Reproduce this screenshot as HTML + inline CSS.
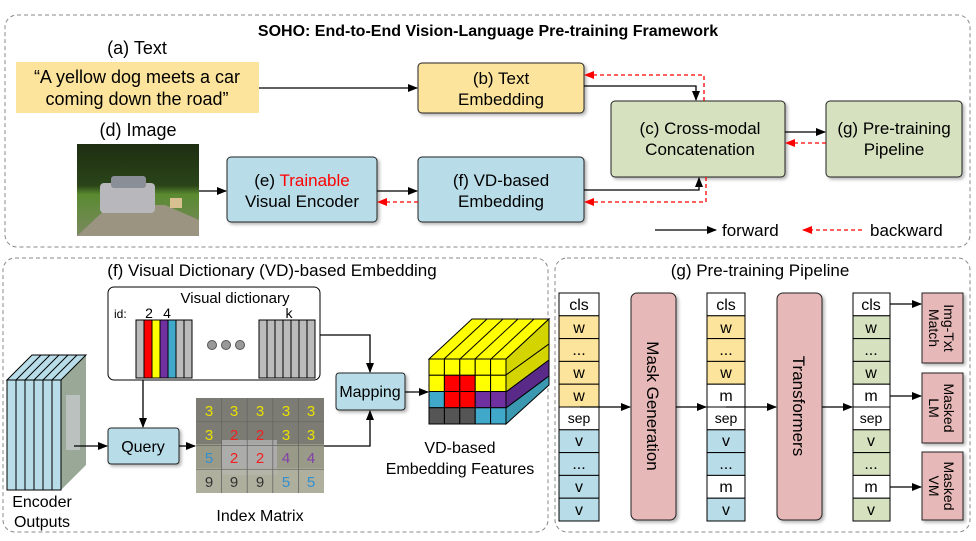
<!DOCTYPE html>
<html><head><meta charset="utf-8"><style>
html,body{margin:0;padding:0;background:#fff;}
svg text{font-family:"Liberation Sans",Arial,sans-serif;}
</style></head><body>
<svg width="976" height="536" viewBox="0 0 976 536" xmlns="http://www.w3.org/2000/svg">
<defs>
<marker id="ab" markerWidth="10" markerHeight="10" refX="9" refY="5" orient="auto" markerUnits="userSpaceOnUse"><path d="M0,1 L10,5 L0,9 Z" fill="#000"/></marker>
<marker id="ar" markerWidth="10" markerHeight="10" refX="9" refY="5" orient="auto" markerUnits="userSpaceOnUse"><path d="M0,1 L10,5 L0,9 Z" fill="#f00"/></marker>
<filter id="sh" x="-10%" y="-10%" width="130%" height="130%"><feDropShadow dx="2" dy="2" stdDeviation="1.5" flood-color="#000" flood-opacity="0.3"/></filter>
<linearGradient id="photo" x1="0" y1="0" x2="0" y2="1">
<stop offset="0" stop-color="#1e2e12"/><stop offset="0.45" stop-color="#2a4418"/><stop offset="0.55" stop-color="#5a8a30"/><stop offset="1" stop-color="#7a8a60"/></linearGradient>
</defs>

<!-- Top panel -->
<rect x="5" y="15" width="965" height="232" rx="12" fill="none" stroke="#888" stroke-dasharray="4,3"/>
<text x="488" y="36" font-size="16" font-weight="bold" text-anchor="middle">SOHO: End-to-End Vision-Language Pre-training Framework</text>
<text x="137" y="54" font-size="18" text-anchor="middle">(a) Text</text>
<rect x="16" y="62" width="243" height="51" fill="#fde49c"/>
<text x="137" y="83" font-size="18" text-anchor="middle">“A yellow dog meets a car</text>
<text x="137" y="105" font-size="18" text-anchor="middle">coming down the road”</text>
<text x="138" y="136" font-size="18" text-anchor="middle">(d) Image</text>
<rect x="77" y="144" width="122" height="92" fill="url(#photo)"/>
<path d="M77,236 L110,205 L165,205 L199,220 L199,236 Z" fill="#9a9480"/>
<rect x="100" y="183" width="55" height="30" rx="4" fill="#b8b8bc"/>
<rect x="111" y="176" width="35" height="12" rx="3" fill="#8a8e96"/>
<rect x="170" y="198" width="12" height="10" fill="#d8c090"/>

<rect x="418" y="63" width="166" height="50" rx="4" fill="#fde49c" stroke="#222" filter="url(#sh)"/>
<text x="501" y="84" font-size="17" text-anchor="middle">(b) Text</text>
<text x="501" y="105" font-size="17" text-anchor="middle">Embedding</text>
<rect x="611" y="101" width="174" height="76" rx="4" fill="#d6e2bf" stroke="#222" filter="url(#sh)"/>
<text x="700" y="134" font-size="17" text-anchor="middle">(c) Cross-modal</text>
<text x="700" y="155" font-size="17" text-anchor="middle">Concatenation</text>
<rect x="826" y="101" width="136" height="76" rx="4" fill="#d6e2bf" stroke="#222" filter="url(#sh)"/>
<text x="894" y="134" font-size="17" text-anchor="middle">(g) Pre-training</text>
<text x="894" y="155" font-size="17" text-anchor="middle">Pipeline</text>
<rect x="227" y="157" width="150" height="65" rx="4" fill="#b8dde8" stroke="#222" filter="url(#sh)"/>
<text x="302" y="186" font-size="17" text-anchor="middle">(e) <tspan fill="#f00">Trainable</tspan></text>
<text x="302" y="207" font-size="17" text-anchor="middle">Visual Encoder</text>
<rect x="418" y="157" width="166" height="65" rx="4" fill="#b8dde8" stroke="#222" filter="url(#sh)"/>
<text x="501" y="186" font-size="17" text-anchor="middle">(f) VD-based</text>
<text x="501" y="207" font-size="17" text-anchor="middle">Embedding</text>

<g stroke="#000" stroke-width="1.3" fill="none">
<line x1="259" y1="88" x2="417" y2="88" marker-end="url(#ab)"/>
<polyline points="584,86 696,86 696,100" marker-end="url(#ab)"/>
<line x1="785" y1="132" x2="825" y2="132" marker-end="url(#ab)"/>
<line x1="199" y1="191" x2="226" y2="191" marker-end="url(#ab)"/>
<line x1="377" y1="191" x2="417" y2="191" marker-end="url(#ab)"/>
<polyline points="584,190 699,190 699,178" marker-end="url(#ab)"/>
<line x1="655" y1="230" x2="716" y2="230" marker-end="url(#ab)"/>
</g>
<g stroke="#f00" stroke-width="1.3" fill="none" stroke-dasharray="4,3">
<polyline points="704,101 704,75 585,75" marker-end="url(#ar)"/>
<line x1="826" y1="143" x2="786" y2="143" marker-end="url(#ar)"/>
<polyline points="706,177 706,202 585,202" marker-end="url(#ar)"/>
<line x1="418" y1="202" x2="378" y2="202" marker-end="url(#ar)"/>
<line x1="862" y1="230" x2="803" y2="230" marker-end="url(#ar)"/>
</g>
<text x="722" y="236" font-size="17">forward</text>
<text x="870" y="236" font-size="17">backward</text>

<!-- Bottom-left panel -->
<rect x="3" y="258" width="545" height="274" rx="12" fill="none" stroke="#888" stroke-dasharray="4,3"/>
<text x="272" y="276" font-size="17" text-anchor="middle">(f) Visual Dictionary (VD)-based Embedding</text>
<polygon points="61,380 86,355 86,465 61,490" fill="#9aa898"/>
<polygon points="7,380 32,355 86,355 61,380" fill="#b8dde8" stroke="#000" stroke-width="1"/>
<rect x="7" y="380" width="54" height="110" fill="#b8dde8" stroke="#000" stroke-width="1"/>
<g stroke="#000" stroke-width="1">
<line x1="16" y1="380" x2="16" y2="490"/><line x1="25" y1="380" x2="25" y2="490"/><line x1="34" y1="380" x2="34" y2="490"/><line x1="43" y1="380" x2="43" y2="490"/><line x1="52" y1="380" x2="52" y2="490"/>
<line x1="16" y1="380" x2="41" y2="355"/><line x1="25" y1="380" x2="50" y2="355"/><line x1="34" y1="380" x2="59" y2="355"/><line x1="43" y1="380" x2="68" y2="355"/><line x1="52" y1="380" x2="77" y2="355"/>
</g>
<rect x="66" y="395" width="14" height="55" fill="#c8ccd0" opacity="0.7"/>
<text x="42" y="507" font-size="16" text-anchor="middle">Encoder</text>
<text x="42" y="527" font-size="16" text-anchor="middle">Outputs</text>
<rect x="108" y="287" width="212" height="93" rx="6" fill="#fff" stroke="#000"/>
<text x="235" y="303" font-size="15" text-anchor="middle">Visual dictionary</text>
<text x="114" y="318" font-size="12">id:</text>
<text x="149" y="318" font-size="14" text-anchor="middle">2</text>
<text x="167" y="318" font-size="14" text-anchor="middle">4</text>
<text x="289" y="318" font-size="14" text-anchor="middle">k</text>
<g stroke="#000" stroke-width="1">
<rect x="136" y="320" width="8" height="58" fill="#bbb"/><rect x="144" y="320" width="8" height="58" fill="#f00"/><rect x="152" y="320" width="8" height="58" fill="#ff0"/><rect x="160" y="320" width="8" height="58" fill="#7030a0"/><rect x="168" y="320" width="8" height="58" fill="#40a8c8"/><rect x="176" y="320" width="8" height="58" fill="#bbb"/><rect x="184" y="320" width="8" height="58" fill="#bbb"/>
<rect x="259" y="320" width="8" height="58" fill="#bbb"/><rect x="267" y="320" width="8" height="58" fill="#bbb"/><rect x="275" y="320" width="8" height="58" fill="#bbb"/><rect x="283" y="320" width="8" height="58" fill="#bbb"/><rect x="291" y="320" width="8" height="58" fill="#bbb"/><rect x="299" y="320" width="8" height="58" fill="#bbb"/><rect x="307" y="320" width="8" height="58" fill="#bbb"/>
</g>
<g fill="#999" stroke="#555"><circle cx="212" cy="345" r="4.5"/><circle cx="226" cy="345" r="4.5"/><circle cx="240" cy="345" r="4.5"/></g>
<rect x="108" y="428" width="71" height="36" rx="3" fill="#b8dde8" stroke="#222" filter="url(#sh)"/>
<text x="143" y="452" font-size="16" text-anchor="middle">Query</text>
<rect x="196" y="398" width="128" height="46" fill="#7c7c74"/>
<rect x="196" y="444" width="128" height="49" fill="#9a9a88"/>
<rect x="222" y="440" width="55" height="35" fill="#b0b0b4" opacity="0.8"/>
<rect x="196" y="468" width="128" height="25" fill="#b8b8a8" opacity="0.7"/>
<g stroke="#666" stroke-width="0.8">
<line x1="221.6" y1="398" x2="221.6" y2="493"/><line x1="247.2" y1="398" x2="247.2" y2="493"/><line x1="272.8" y1="398" x2="272.8" y2="493"/><line x1="298.4" y1="398" x2="298.4" y2="493"/>
<line x1="196" y1="421.75" x2="324" y2="421.75"/><line x1="196" y1="445.5" x2="324" y2="445.5"/><line x1="196" y1="469.25" x2="324" y2="469.25"/>
</g>
<g font-size="15" text-anchor="middle">
<g fill="#e8e000"><text x="209" y="416">3</text><text x="234" y="416">3</text><text x="260" y="416">3</text><text x="286" y="416">3</text><text x="311" y="416">3</text><text x="209" y="440">3</text><text x="286" y="440">3</text><text x="311" y="440">3</text></g>
<g fill="#f02020"><text x="234" y="440">2</text><text x="260" y="440">2</text><text x="234" y="463">2</text><text x="260" y="463">2</text></g>
<g fill="#3090d0"><text x="209" y="463">5</text><text x="286" y="487">5</text><text x="311" y="487">5</text></g>
<g fill="#8040a8"><text x="286" y="463">4</text><text x="311" y="463">4</text></g>
<g fill="#333"><text x="209" y="487">9</text><text x="234" y="487">9</text><text x="260" y="487">9</text></g>
</g>
<text x="260" y="521" font-size="16" text-anchor="middle">Index Matrix</text>
<rect x="336" y="373" width="69" height="37" rx="3" fill="#b8dde8" stroke="#222" filter="url(#sh)"/>
<text x="370" y="397" font-size="16" text-anchor="middle">Mapping</text>
<polygon points="429,359 472,319 549,319 506,359" fill="#ff0" stroke="#000"/>
<polygon points="506,359 549,319 549,344 506,375" fill="#d4d400" stroke="#000"/>
<polygon points="506,375 549,344 549,360 506,392" fill="#d4d400" stroke="#000"/>
<polygon points="506,392 549,360 549,376 506,408" fill="#5a2a88" stroke="#000"/>
<polygon points="506,408 549,376 549,385 506,424" fill="#3a98b0" stroke="#000"/>
<g stroke="#000" stroke-width="1">
<line x1="444" y1="359" x2="487" y2="319"/><line x1="460" y1="359" x2="503" y2="319"/><line x1="475" y1="359" x2="518" y2="319"/><line x1="491" y1="359" x2="534" y2="319"/>
</g>
<g stroke="#000" stroke-width="1">
<rect x="429" y="359" width="15.4" height="16.25" fill="#ff0"/><rect x="444.4" y="359" width="15.4" height="16.25" fill="#ff0"/><rect x="459.8" y="359" width="15.4" height="16.25" fill="#ff0"/><rect x="475.2" y="359" width="15.4" height="16.25" fill="#ff0"/><rect x="490.6" y="359" width="15.4" height="16.25" fill="#ff0"/>
<rect x="429" y="375.25" width="15.4" height="16.25" fill="#ff0"/><rect x="444.4" y="375.25" width="15.4" height="16.25" fill="#f00"/><rect x="459.8" y="375.25" width="15.4" height="16.25" fill="#f00"/><rect x="475.2" y="375.25" width="15.4" height="16.25" fill="#ff0"/><rect x="490.6" y="375.25" width="15.4" height="16.25" fill="#ff0"/>
<rect x="429" y="391.5" width="15.4" height="16.25" fill="#40a8c8"/><rect x="444.4" y="391.5" width="15.4" height="16.25" fill="#f00"/><rect x="459.8" y="391.5" width="15.4" height="16.25" fill="#f00"/><rect x="475.2" y="391.5" width="15.4" height="16.25" fill="#7030a0"/><rect x="490.6" y="391.5" width="15.4" height="16.25" fill="#7030a0"/>
<rect x="429" y="407.75" width="15.4" height="16.25" fill="#555"/><rect x="444.4" y="407.75" width="15.4" height="16.25" fill="#555"/><rect x="459.8" y="407.75" width="15.4" height="16.25" fill="#555"/><rect x="475.2" y="407.75" width="15.4" height="16.25" fill="#40a8c8"/><rect x="490.6" y="407.75" width="15.4" height="16.25" fill="#40a8c8"/>
</g>
<text x="460" y="453" font-size="16" text-anchor="middle">VD-based</text>
<text x="460" y="474" font-size="16" text-anchor="middle">Embedding Features</text>
<g stroke="#000" stroke-width="1.3" fill="none">
<line x1="143" y1="380" x2="143" y2="427" marker-end="url(#ab)"/>
<line x1="74" y1="446" x2="107" y2="446" marker-end="url(#ab)"/>
<line x1="179" y1="446" x2="195" y2="446" marker-end="url(#ab)"/>
<polyline points="320,335 370,335 370,372" marker-end="url(#ab)"/>
<polyline points="324,446 370,446 370,411" marker-end="url(#ab)"/>
<line x1="405" y1="392" x2="428" y2="392" marker-end="url(#ab)"/>
</g>

<!-- Bottom-right panel -->
<rect x="555" y="258" width="415" height="274" rx="12" fill="none" stroke="#888" stroke-dasharray="4,3"/>
<text x="760" y="276" font-size="17" text-anchor="middle">(g) Pre-training Pipeline</text>
<g stroke="#000" stroke-width="1">
<rect x="559" y="293" width="40" height="22.8" fill="#fff"/><rect x="559" y="315.8" width="40" height="22.8" fill="#fde49c"/><rect x="559" y="338.6" width="40" height="22.8" fill="#fde49c"/><rect x="559" y="361.4" width="40" height="22.8" fill="#fde49c"/><rect x="559" y="384.2" width="40" height="22.8" fill="#fde49c"/><rect x="559" y="407" width="40" height="22.8" fill="#fff"/><rect x="559" y="429.8" width="40" height="22.8" fill="#b8dde8"/><rect x="559" y="452.6" width="40" height="22.8" fill="#b8dde8"/><rect x="559" y="475.4" width="40" height="22.8" fill="#b8dde8"/><rect x="559" y="498.2" width="40" height="22.8" fill="#b8dde8"/>
<rect x="707" y="293" width="38" height="22.8" fill="#fff"/><rect x="707" y="315.8" width="38" height="22.8" fill="#fde49c"/><rect x="707" y="338.6" width="38" height="22.8" fill="#fde49c"/><rect x="707" y="361.4" width="38" height="22.8" fill="#fde49c"/><rect x="707" y="384.2" width="38" height="22.8" fill="#fff"/><rect x="707" y="407" width="38" height="22.8" fill="#fff"/><rect x="707" y="429.8" width="38" height="22.8" fill="#b8dde8"/><rect x="707" y="452.6" width="38" height="22.8" fill="#b8dde8"/><rect x="707" y="475.4" width="38" height="22.8" fill="#fff"/><rect x="707" y="498.2" width="38" height="22.8" fill="#b8dde8"/>
<rect x="853" y="293" width="37" height="22.8" fill="#fff"/><rect x="853" y="315.8" width="37" height="22.8" fill="#d6e2bf"/><rect x="853" y="338.6" width="37" height="22.8" fill="#d6e2bf"/><rect x="853" y="361.4" width="37" height="22.8" fill="#d6e2bf"/><rect x="853" y="384.2" width="37" height="22.8" fill="#fff"/><rect x="853" y="407" width="37" height="22.8" fill="#fff"/><rect x="853" y="429.8" width="37" height="22.8" fill="#d6e2bf"/><rect x="853" y="452.6" width="37" height="22.8" fill="#d6e2bf"/><rect x="853" y="475.4" width="37" height="22.8" fill="#fff"/><rect x="853" y="498.2" width="37" height="22.8" fill="#d6e2bf"/>
</g>
<g font-size="16" text-anchor="middle">
<text x="579" y="310">cls</text><text x="579" y="333">w</text><text x="579" y="355">...</text><text x="579" y="378">w</text><text x="579" y="401">w</text><text x="579" y="423" font-size="14">sep</text><text x="579" y="446">v</text><text x="579" y="469">...</text><text x="579" y="492">v</text><text x="579" y="515">v</text>
<text x="726" y="310">cls</text><text x="726" y="333">w</text><text x="726" y="355">...</text><text x="726" y="378">w</text><text x="726" y="401">m</text><text x="726" y="423" font-size="14">sep</text><text x="726" y="446">v</text><text x="726" y="469">...</text><text x="726" y="492">m</text><text x="726" y="515">v</text>
<text x="871" y="310">cls</text><text x="871" y="333">w</text><text x="871" y="355">...</text><text x="871" y="378">w</text><text x="871" y="401">m</text><text x="871" y="423" font-size="14">sep</text><text x="871" y="446">v</text><text x="871" y="469">...</text><text x="871" y="492">m</text><text x="871" y="515">v</text>
</g>
<rect x="631" y="293" width="45" height="227" rx="6" fill="#e6b8b7" stroke="#222" filter="url(#sh)"/>
<text transform="translate(653,406) rotate(90)" x="0" y="6" font-size="17" text-anchor="middle">Mask Generation</text>
<rect x="777" y="293" width="45" height="227" rx="6" fill="#e6b8b7" stroke="#222" filter="url(#sh)"/>
<text transform="translate(799,406) rotate(90)" x="0" y="6" font-size="17" text-anchor="middle">Transformers</text>
<rect x="922" y="293" width="41" height="70" fill="#e6b8b7" stroke="#222" filter="url(#sh)"/>
<text transform="translate(942,328) rotate(90)" font-size="14" text-anchor="middle"><tspan x="0" y="-2">Img-Txt</tspan><tspan x="0" y="13">Match</tspan></text>
<rect x="922" y="373" width="41" height="70" fill="#e6b8b7" stroke="#222" filter="url(#sh)"/>
<text transform="translate(942,408) rotate(90)" font-size="14" text-anchor="middle"><tspan x="0" y="-2">Masked</tspan><tspan x="0" y="13">LM</tspan></text>
<rect x="922" y="452" width="41" height="68" fill="#e6b8b7" stroke="#222" filter="url(#sh)"/>
<text transform="translate(942,486) rotate(90)" font-size="14" text-anchor="middle"><tspan x="0" y="-2">Masked</tspan><tspan x="0" y="13">VM</tspan></text>
<g stroke="#000" stroke-width="1.3" fill="none">
<line x1="580" y1="407" x2="630" y2="407" marker-end="url(#ab)"/>
<line x1="676" y1="407" x2="706" y2="407" marker-end="url(#ab)"/>
<line x1="726" y1="407" x2="776" y2="407" marker-end="url(#ab)"/>
<line x1="822" y1="407" x2="852" y2="407" marker-end="url(#ab)"/>
<line x1="890" y1="304" x2="921" y2="304" marker-end="url(#ab)"/>
<line x1="890" y1="396" x2="921" y2="396" marker-end="url(#ab)"/>
<line x1="890" y1="487" x2="921" y2="487" marker-end="url(#ab)"/>
</g>
</svg>
</body></html>
